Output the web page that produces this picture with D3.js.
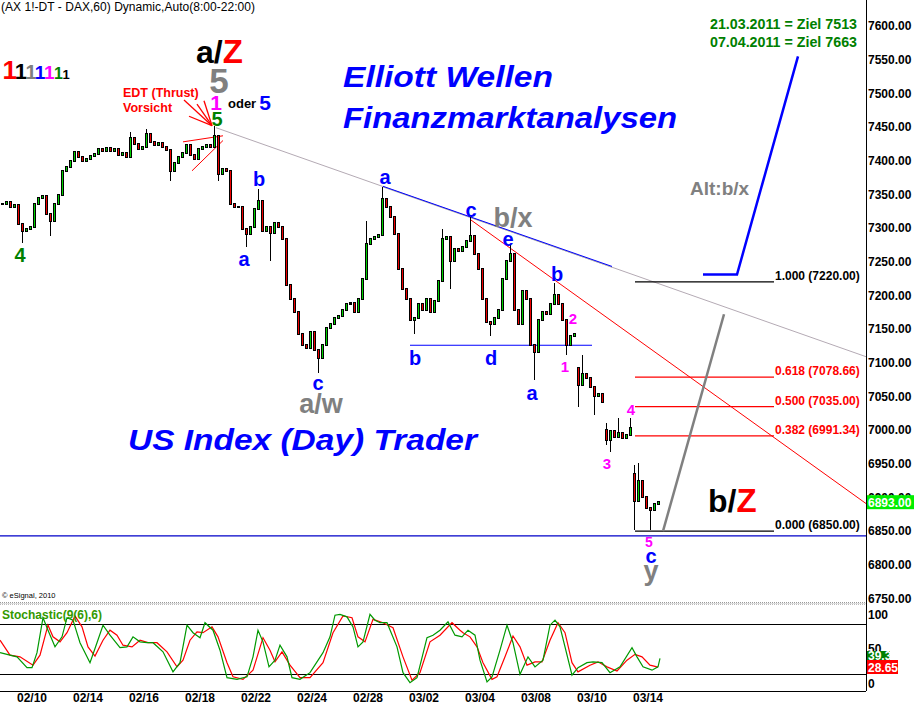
<!DOCTYPE html>
<html><head><meta charset="utf-8">
<script src="https://cdn.jsdelivr.net/npm/d3@7"></script>
<style>
body{margin:0;background:#fff}
text{font-family:"Liberation Sans",Arial,Helvetica,sans-serif}
</style>
</head><body>
<svg id="chart" width="914" height="708"></svg>
<script>
// ---------------- DATA ----------------
const dateLabels = ["02/10","02/14","02/16","02/18","02/22","02/24","02/28","03/02","03/04","03/08","03/10","03/14"];
const dateTicks  = [16,44,72,100,128,156,184,212,240,268,296,324];   // hourly bar index
const priceTicks = [7600,7550,7500,7450,7400,7350,7300,7250,7200,7150,7100,7050,7000,6950,6900,6850,6800,6750];
const stochTicks = [100,50,0];

// one candle per two hourly bars, close values
const closes = [7336,7339,7331,7334,7306,7296,7299,7302,7336,7345,
 7348,7321,7310,7336,7349,7385,7391,7399,7413,7406,
 7400,7403,7407,7410,7418,7415,7419,7415,7418,7409,
 7412,7406,7433,7425,7418,7421,7439,7428,7424,7427,
 7421,7416,7385,7396,7406,7412,7424,7409,7403,7418,
 7421,7424,7421,7436,7380,7388,7385,7336,7331,7331,
 7299,7291,7302,7328,7340,7296,7302,7293,7307,7302,
 7284,7216,7194,7176,7142,7127,7122,7146,7119,7107,
 7127,7152,7158,7167,7170,7179,7187,7188,7176,7194,
 7224,7276,7284,7287,7290,7343,7331,7316,7291,7239,
 7209,7194,7164,7167,7187,7179,7194,7176,7191,7221,
 7284,7287,7251,7269,7266,7272,7281,7288,7261,7239,
 7194,7161,7157,7167,7179,7224,7251,7261,7179,7157,
 7206,7194,7127,7116,7164,7176,7172,7187,7200,7187,
 7164,7127,7140,7142,7067,7083,7078,7064,7050,7054,
 7042,6985,6998,6990,6995,6988,6993,7003,6895,6925,
 6900,6885,6882,6890,6893];
const gapOpens = {144:7092, 151:7000, 158:6935};
const wickHigh = {32:7443,36:7447,53:7451,64:7358,91:7310,95:7361,110:7299,117:7316,127:7276,138:7219,145:7112,151:7010,154:7018,157:7018,158:6948,159:6951};
const wickLow  = {5:7278,12:7288,42:7370,54:7370,61:7272,67:7251,79:7085,103:7142,112:7209,122:7139,133:7075,141:7112,144:7034,148:7022,151:6978,152:6967,158:6851,162:6851};

// stochastic %K (green) and %D (red): [hourly bar index, value]
const stochK = [[0,46],[5,43],[8.5,41],[13.5,28],[16,28],[18.5,46],[21.5,88],[24,73],[27.5,53],[31,65],[33.5,88],[36.5,85],[40,58],[45,34],[48.5,58],[51.5,79],[55,67],[60,52],[63.5,53],[66.5,65],[70,59],[73.5,58],[76.5,58],[81.5,47],[86.5,23],[90,34],[93.5,79],[96.5,70],[100,64],[102.5,82],[106.5,73],[110,49],[113.5,16],[118.5,14],[123.5,17],[126.5,41],[129,73],[131.5,59],[134.5,29],[137.5,37],[140,55],[143.5,41],[146,16],[150,14],[155,22],[161.5,46],[165,65],[167.5,91],[170,92],[173.5,89],[176.5,77],[179,53],[181.5,59],[185,92],[187.5,85],[190,82],[193.5,82],[198.5,53],[201.5,22],[205,10],[208.5,16],[213.5,64],[216.5,67],[220,73],[224,83],[227.5,67],[231,65],[234,73],[237.5,67],[240,37],[243.5,11],[246,17],[250,49],[253.5,79],[256.5,58],[260,20],[264,41],[267.5,29],[271.5,37],[275,79],[277.5,85],[280,77],[282.5,53],[286,19],[289,28],[293.5,34],[296.5,35],[301,34],[305,22],[310,29],[316,52],[318.5,41],[321.5,29],[326,25],[329,29],[330,39.3]];
const stochD = [[0,61],[5,43],[10,41],[16.5,31],[20,43],[24,79],[26.5,65],[30,59],[33.5,70],[37.5,90],[41,77],[44,53],[47.5,42],[51.5,61],[55,73],[58.5,67],[61.5,55],[66,53],[70,61],[74,58],[78.5,58],[83.5,47],[88.5,29],[91.5,37],[95,61],[98.5,71],[101.5,70],[106,77],[109,65],[113.5,34],[116.5,17],[121.5,14],[126.5,25],[131.5,64],[135,49],[137.5,35],[141,47],[145,31],[150,16],[155,16],[161.5,34],[166.5,70],[171.5,90],[176,88],[179,65],[182.5,59],[186.5,86],[191.5,82],[196.5,76],[201.5,41],[206,13],[210,22],[215,59],[220,67],[226,82],[230,73],[231.5,70],[235,65],[238.5,53],[241.5,34],[246,14],[248.5,17],[252.5,41],[256.5,66],[260,53],[263.5,31],[267.5,35],[271,35],[275,61],[279,82],[282.5,70],[286,34],[289,23],[295,31],[299,35],[303.5,29],[308.5,24],[313.5,37],[317.5,44],[321,41],[325,31],[329,28.65]];

const fibRatios = ["1.000","0.618","0.500","0.382","0.000"];
const fibPrices = [7220.00,7078.66,7035.00,6991.34,6850.00];
const lastPrice = 6893.00;
const lastK = 39.3, lastD = 28.65;

// ---------------- SCALES ----------------
const svg = d3.select("#chart");
const W = 914, H = 708;
const xS = d3.scaleLinear().domain([0,433]).range([0,866]);
const yS = d3.scaleLinear().domain([6750,7600]).range([598.5,26]);
const sS = d3.scaleLinear().domain([0,100]).range([691,607.7]);

svg.append("rect").attr("width",W).attr("height",H).attr("fill","#fff");

// title
svg.append("text").attr("x",1).attr("y",11).attr("font-size",12).attr("textLength",254)
  .text("(AX 1!-DT - DAX,60) Dynamic,Auto(8:00-22:00)");

// ---------- trend lines (data coords) ----------
function seg(p, color, w, dash){
  svg.append("path").attr("d", d3.line().x(d=>xS(d[0])).y(d=>yS(d[1]))(p))
   .attr("fill","none").attr("stroke",color).attr("stroke-width",w).attr("stroke-dasharray",dash||null);
}
seg([[108,7449],[433,7109]], "#b4aab4", 1);
seg([[191.5,7361],[306,7242]], "#b0b0b0", 1);
seg([[191.5,7362],[306,7243]], "#0000ff", 1);
seg([[235,7313],[433,6891]], "#ff0000", 1);
seg([[205,7126],[296,7126]], "#0000ff", 1.2);
seg([[0,6843],[433,6843]], "#0000c8", 1.2);
// EDT triangle
seg([[91.5,7428],[111.5,7437]], "#ff0000", 1);
seg([[96,7385],[111.5,7430]], "#ff0000", 1);
// arrows
[[92,7490],[94.5,7466],[98.5,7484],[102,7489]].forEach(s=>seg([s,[106,7452]],"#ff0000",1.3));
// fib
fibPrices.forEach((p,i)=>{
  const c = (i===0||i===4) ? "#000" : "#ff0000";
  seg([[317.5,p],[387,p]], c, 1.2);
  svg.append("text").attr("x",xS(387.5)).attr("y",yS(p)-2).attr("font-size",12).attr("font-weight","bold")
    .attr("fill",c).text(fibRatios[i]+" ("+p.toFixed(2)+")");
});
// projections
seg([[351.5,7231],[368.5,7231],[399,7555]], "#0000ff", 2.5);
seg([[331.5,6850],[362,7172]], "#808080", 2.5);

// ---------- candles ----------
const bars = closes.map((c,i)=>{
  const o = gapOpens[i] !== undefined ? gapOpens[i] : (i ? closes[i-1] : c);
  const h = Math.max(o,c, wickHigh[i] !== undefined ? wickHigh[i] : -1e9);
  const l = Math.min(o,c, wickLow[i] !== undefined ? wickLow[i] : 1e9);
  return {t:1+2*i,o,h,l,c};
});
const cg = svg.append("g").attr("shape-rendering","crispEdges");
bars.forEach(b=>{
  const cx = Math.round(xS(b.t));
  cg.append("rect").attr("x",cx).attr("width",1).attr("y",yS(b.h)).attr("height",Math.max(1,yS(b.l)-yS(b.h))).attr("fill","#000");
  const top = Math.round(yS(Math.max(b.o,b.c))), bot = Math.round(yS(Math.min(b.o,b.c)));
  cg.append("rect").attr("x",cx-1).attr("width",3).attr("y",top-1).attr("height",Math.max(2,bot-top+2)).attr("fill","#000");
  if (bot-top>1) cg.append("rect").attr("x",cx).attr("width",1).attr("y",top).attr("height",bot-top)
     .attr("fill", b.c>=b.o ? "#00d000" : "#ee0000");
});

// ---------- labels ----------
function txt(t,p,s,opt){
  const e = svg.append("text").attr("x",xS(t)).attr("y",yS(p)).attr("font-size",opt.size).attr("font-weight","bold")
    .attr("fill",opt.color||"#000").attr("text-anchor",opt.anchor||"middle");
  if (opt.style) e.attr("font-style",opt.style);
  if (opt.len) e.attr("textLength",opt.len).attr("lengthAdjust","spacingAndGlyphs");
  e.text(s); return e;
}
const BL="#0000ff", MG="#ff00ff", GR="#808080", GN="#008000";
txt(10,7249,"4",{size:20,color:GN});
txt(122,7243,"a",{size:20,color:BL});
txt(129.5,7363,"b",{size:20,color:BL});
txt(159,7060,"c",{size:20,color:BL});
txt(160.5,7025,"a/w",{size:27,color:GR});
txt(192.5,7366,"a",{size:20,color:BL});
txt(235.5,7316,"c",{size:20,color:BL});
txt(256.5,7301,"b/x",{size:27,color:GR});
txt(254,7273,"e",{size:20,color:BL});
txt(278.5,7221,"b",{size:20,color:BL});
txt(286.5,7157,"2",{size:15,color:MG});
txt(282.5,7087,"1",{size:15,color:MG});
txt(207.5,7097,"b",{size:20,color:BL});
txt(245.5,7097,"d",{size:20,color:BL});
txt(266,7045,"a",{size:20,color:BL});
txt(315.5,7022,"4",{size:15,color:MG});
txt(303.5,6942,"3",{size:15,color:MG});
txt(324.5,6826,"5",{size:14,color:MG});
txt(325.5,6803,"c",{size:20,color:BL});
txt(325.5,6778,"y",{size:27,color:GR});
txt(345,7349,"Alt:b/x",{size:19,color:GR,anchor:"start"});
txt(109.5,7500,"5",{size:35,color:GR});
txt(108,7475,"1",{size:21,color:MG});
txt(114,7478,"oder",{size:13,color:"#000",anchor:"start"});
txt(132.5,7475,"5",{size:21,color:BL});
txt(108.5,7451,"5",{size:20,color:GN});
txt(61.5,7495,"EDT (Thrust)",{size:12.5,color:"#ff0000",anchor:"start"});
txt(61.5,7473,"Vorsicht",{size:12.5,color:"#ff0000",anchor:"start"});
txt(171.5,7509,"Elliott Wellen",{size:30,color:BL,anchor:"start",style:"italic",len:210});
txt(171.5,7448,"Finanzmarktanalysen",{size:30,color:BL,anchor:"start",style:"italic",len:334});
txt(64,6970,"US Index (Day) Trader",{size:30,color:BL,anchor:"start",style:"italic",len:349});
txt(355,7595,"21.03.2011 = Ziel 7513",{size:14,color:GN,anchor:"start",len:147});
txt(355,7569,"07.04.2011 = Ziel 7663",{size:14,color:GN,anchor:"start",len:147});
// a/Z , b/Z
let e = txt(98,7545,"",{size:32,anchor:"start"});
e.append("tspan").attr("fill","#000").text("a/"); e.append("tspan").attr("fill","#ff0000").attr("font-size",33).text("Z");
e = txt(354,6878,"",{size:32,anchor:"start"});
e.append("tspan").attr("fill","#000").text("b/"); e.append("tspan").attr("fill","#ff0000").attr("font-size",33).text("Z");
// 1111111
const ones = [["#ff0000",26,1.2],["#000",22,7.4],["#808080",20,12.8],["#0000ff",19,17.4],["#ff00ff",19,22],["#008000",16,27],["#000",13,31.2]];
ones.forEach(o=>txt(o[2],7521,"1",{size:o[1],color:o[0],anchor:"start"}));

// ---------- panels / axes ----------
const ax = svg.append("g").attr("shape-rendering","crispEdges");
ax.append("line").attr("x1",866.5).attr("x2",866.5).attr("y1",0).attr("y2",691).attr("stroke","#000");
ax.append("line").attr("x1",0).attr("x2",866).attr("y1",602.5).attr("y2",602.5).attr("stroke","#999").attr("stroke-dasharray","1,1");
ax.append("line").attr("x1",0).attr("x2",866).attr("y1",604.5).attr("y2",604.5).attr("stroke","#bbb").attr("stroke-dasharray","1,1");
ax.append("line").attr("x1",0).attr("x2",866).attr("y1",603.5).attr("y2",603.5).attr("stroke","#ddd");
[80,20].forEach(v=>ax.append("line").attr("x1",0).attr("x2",866).attr("y1",Math.round(sS(v))+0.5).attr("y2",Math.round(sS(v))+0.5).attr("stroke","#000"));
ax.append("line").attr("x1",0).attr("x2",866).attr("y1",691.5).attr("y2",691.5).attr("stroke","#000");

// price axis labels
priceTicks.forEach(p=>svg.append("text").attr("x",868).attr("y",yS(p)).attr("dy","0.36em")
  .attr("font-size",12).attr("font-weight","bold").text(p.toFixed(2)));
// last price box
svg.append("rect").attr("x",867).attr("y",yS(lastPrice)-7).attr("width",47).attr("height",14).attr("fill","#00ee00");
svg.append("text").attr("x",868).attr("y",yS(lastPrice)).attr("dy","0.36em").attr("font-size",12).attr("font-weight","bold")
  .attr("fill","#fff").text(lastPrice.toFixed(2));

// stoch axis labels
svg.append("text").attr("x",868).attr("y",sS(100)+11).attr("font-size",12).attr("font-weight","bold").text(stochTicks[0]);
svg.append("text").attr("x",868).attr("y",sS(50)+4).attr("font-size",12).attr("font-weight","bold").text(stochTicks[1]);
svg.append("text").attr("x",868).attr("y",sS(0)-3).attr("font-size",12).attr("font-weight","bold").text(stochTicks[2]);

// stochastic lines
const sl = d3.line().x(d=>xS(d[0])).y(d=>sS(d[1]));
svg.append("path").attr("d",sl(stochD)).attr("fill","none").attr("stroke","#ff0000").attr("stroke-width",1.2);
svg.append("path").attr("d",sl(stochK)).attr("fill","none").attr("stroke","#009900").attr("stroke-width",1.2);
svg.append("rect").attr("x",867).attr("y",651).attr("width",23).attr("height",10).attr("fill","#008000");
svg.append("text").attr("x",868).attr("y",660).attr("font-size",12).attr("font-weight","bold").attr("fill","#fff").text(lastK);
svg.append("rect").attr("x",867).attr("y",660).attr("width",31).attr("height",14).attr("fill","#ff0000");
svg.append("text").attr("x",868).attr("y",671.5).attr("font-size",12).attr("font-weight","bold").attr("fill","#fff").text(lastD);
svg.append("text").attr("x",2).attr("y",619).attr("font-size",12).attr("font-weight","bold").attr("fill","#339900").text("Stochastic(9(6),6)");
svg.append("text").attr("x",2).attr("y",598).attr("font-size",7.5).text("© eSignal, 2010");

// date axis
dateTicks.forEach((t,i)=>svg.append("text").attr("x",xS(t)).attr("y",702).attr("text-anchor","middle")
  .attr("font-size",12).attr("font-weight","bold").text(dateLabels[i]));
</script>
</body></html>
